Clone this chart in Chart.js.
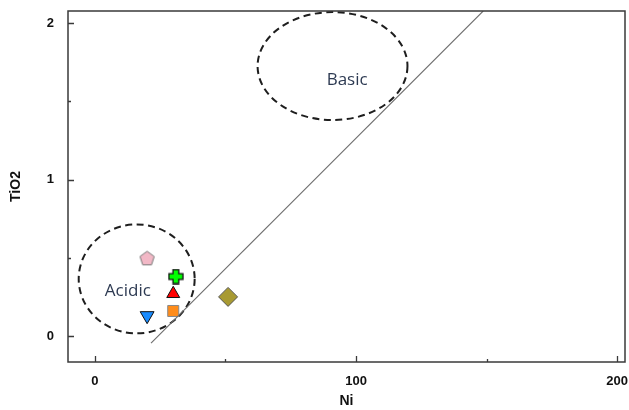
<!DOCTYPE html>
<html>
<head>
<meta charset="utf-8">
<script src="https://cdn.jsdelivr.net/npm/chart.js@4.4.1/dist/chart.umd.min.js"></script>
<style>
  html, body { margin: 0; padding: 0; background: #fff; }
  #wrap { width: 629px; height: 410px; }
</style>
</head>
<body>
<div id="wrap"><canvas id="myChart" width="629" height="410"></canvas></div>
<script>
// sample points (Ni, TiO2)
var samples = ["pentagon", "cross", "triangle", "square", "downTriangle", "diamond"];
var niValues = [20, 31, 30, 30, 20, 51];
var tio2Values = [0.5, 0.38, 0.27, 0.16, 0.13, 0.25];

// discriminant line
var lineNi = [21.5, 148.7];
var lineTiO2 = [-0.045, 2.077];

// field ellipses: centre and radii in data units
var fieldNames = ["Acidic", "Basic"];
var fieldCenterNi = [16, 91];
var fieldCenterTiO2 = [0.365, 1.725];
var fieldRadiusNi = [22.2, 28.7];
var fieldRadiusTiO2 = [0.348, 0.345];
var fieldLabelNi = [12.6, 96.6];
var fieldLabelTiO2 = [0.288, 1.636];

// ticks
var xMajor = [0, 100, 200];
var xMinor = [50, 150];
var yMajor = [0, 1, 2];
var yMinor = [0.5, 1.5];

function makePentagon(size, fill, stroke) {
    var c = document.createElement("canvas");
    c.width = size; c.height = size;
    var g = c.getContext("2d");
    var r = size / 2 - 1;
    g.beginPath();
    for (var i = 0; i < 5; i++) {
        var a = -Math.PI / 2 + i * 2 * Math.PI / 5;
        var px = size / 2 + r * Math.cos(a);
        var py = size / 2 + 1 + r * Math.sin(a);
        if (i === 0) g.moveTo(px, py); else g.lineTo(px, py);
    }
    g.closePath();
    g.fillStyle = fill; g.fill();
    g.strokeStyle = stroke; g.lineWidth = 1; g.stroke();
    return c;
}

function makePlus(size, fill, stroke) {
    var c = document.createElement("canvas");
    c.width = size; c.height = size;
    var g = c.getContext("2d");
    var s = size, a = s * 0.32, b = s * 0.68, m = 1;
    g.beginPath();
    g.moveTo(a, m); g.lineTo(b, m); g.lineTo(b, a); g.lineTo(s - m, a);
    g.lineTo(s - m, b); g.lineTo(b, b); g.lineTo(b, s - m); g.lineTo(a, s - m);
    g.lineTo(a, b); g.lineTo(m, b); g.lineTo(m, a); g.lineTo(a, a);
    g.closePath();
    g.fillStyle = fill; g.fill();
    g.strokeStyle = stroke; g.lineWidth = 1.3; g.stroke();
    return c;
}

var pointStyles = [
    makePentagon(17, "#f2b8c6", "#777"),
    makePlus(16, "#00ff00", "#111"),
    "triangle",
    "rect",
    "triangle",
    "rectRot"
];
var pointFills = ["#f2b8c6", "#00ff00", "#ff0000", "#ff8c1a", "#1a8cff", "#a89a32"];
var pointBorders = ["#777", "#111", "#111", "#888", "#111", "#555"];
var pointRadii = [8, 8, 7.5, 7.8, 8, 9.5];
var pointRotations = [0, 0, 0, 0, 180, 0];

var overlay = {
    id: "overlay",
    beforeDatasetsDraw: function (chart) {
        var ctx = chart.ctx, xs = chart.scales.x, ys = chart.scales.y;
        ctx.save();
        ctx.strokeStyle = "#1e1e1e";
        ctx.lineWidth = 2;
        ctx.setLineDash([7, 4.5]);
        for (var i = 0; i < fieldNames.length; i++) {
            var cx = xs.getPixelForValue(fieldCenterNi[i]);
            var cy = ys.getPixelForValue(fieldCenterTiO2[i]);
            var rx = xs.getPixelForValue(fieldCenterNi[i] + fieldRadiusNi[i]) - cx;
            var ry = cy - ys.getPixelForValue(fieldCenterTiO2[i] + fieldRadiusTiO2[i]);
            ctx.beginPath();
            ctx.ellipse(cx, cy, rx, ry, 0, 0, 2 * Math.PI);
            ctx.stroke();
        }
        ctx.setLineDash([]);
        ctx.fillStyle = "#2d3a52";
        ctx.font = "17px 'Open Sans', sans-serif";
        ctx.textAlign = "center";
        ctx.textBaseline = "middle";
        for (var j = 0; j < fieldNames.length; j++) {
            ctx.fillText(fieldNames[j], xs.getPixelForValue(fieldLabelNi[j]), ys.getPixelForValue(fieldLabelTiO2[j]));
        }
        ctx.restore();
    },
    afterDraw: function (chart) {
        var ctx = chart.ctx, a = chart.chartArea, xs = chart.scales.x, ys = chart.scales.y;
        ctx.save();
        ctx.strokeStyle = "#3a3a3a";
        ctx.lineWidth = 1.5;
        ctx.strokeRect(a.left, a.top, a.right - a.left, a.bottom - a.top);
        ctx.lineWidth = 1.3;
        ctx.beginPath();
        xMajor.forEach(function (v) {
            var p = Math.round(xs.getPixelForValue(v)) + 0.5;
            ctx.moveTo(p, a.bottom); ctx.lineTo(p, a.bottom - 6);
        });
        xMinor.forEach(function (v) {
            var p = Math.round(xs.getPixelForValue(v)) + 0.5;
            ctx.moveTo(p, a.bottom); ctx.lineTo(p, a.bottom - 3);
        });
        yMajor.forEach(function (v) {
            var p = Math.round(ys.getPixelForValue(v)) + 0.5;
            ctx.moveTo(a.left, p); ctx.lineTo(a.left + 6, p);
        });
        yMinor.forEach(function (v) {
            var p = Math.round(ys.getPixelForValue(v)) + 0.5;
            ctx.moveTo(a.left, p); ctx.lineTo(a.left + 3, p);
        });
        ctx.stroke();
        ctx.restore();
    }
};

var ctx = document.getElementById("myChart").getContext("2d");
window.myChart = new Chart(ctx, {
    type: "scatter",
    data: {
        datasets: [
            {
                label: "line",
                type: "line",
                data: lineNi.map(function (v, i) { return { x: v, y: lineTiO2[i] }; }),
                borderColor: "#6e6e6e",
                borderWidth: 1.1,
                pointRadius: 0,
                fill: false
            },
            {
                label: "samples",
                data: niValues.map(function (v, i) { return { x: v, y: tio2Values[i] }; }),
                pointStyle: pointStyles,
                backgroundColor: pointFills,
                borderColor: pointBorders,
                borderWidth: 1,
                pointRadius: pointRadii,
                rotation: pointRotations
            }
        ]
    },
    plugins: [overlay],
    options: {
        responsive: false,
        animation: false,
        events: [],
        layout: { autoPadding: false, padding: { top: 11, right: 4, left: 0, bottom: 0 } },
        plugins: { legend: { display: false }, tooltip: { enabled: false } },
        scales: {
            x: {
                type: "linear",
                min: -10.3,
                max: 203,
                afterBuildTicks: function (scale) {
                    scale.ticks = xMajor.map(function (v) { return { value: v }; });
                },
                afterFit: function (scale) {
                    scale.height = 48;
                    scale.paddingLeft = 0;
                    scale.paddingRight = 0;
                },
                grid: { display: false, drawTicks: false },
                border: { display: false },
                ticks: {
                    padding: 12,
                    color: "#111",
                    font: { family: "'Liberation Sans', Arial, sans-serif", size: 13, weight: "bold" }
                },
                title: {
                    display: true,
                    text: "Ni",
                    color: "#111",
                    padding: { top: 0, bottom: 0 },
                    font: { family: "'Liberation Sans', Arial, sans-serif", size: 14, weight: "bold" }
                }
            },
            y: {
                type: "linear",
                min: -0.166,
                max: 2.077,
                afterBuildTicks: function (scale) {
                    scale.ticks = yMajor.map(function (v) { return { value: v }; });
                },
                afterFit: function (scale) {
                    scale.width = 68;
                    scale.paddingTop = 0;
                    scale.paddingBottom = 0;
                },
                grid: { display: false, drawTicks: false },
                border: { display: false },
                ticks: {
                    padding: 14,
                    color: "#111",
                    font: { family: "'Liberation Sans', Arial, sans-serif", size: 13, weight: "bold" }
                },
                title: {
                    display: true,
                    text: "TiO2",
                    color: "#111",
                    padding: { top: 8, bottom: 0 },
                    font: { family: "'Liberation Sans', Arial, sans-serif", size: 14, weight: "bold" }
                }
            }
        }
    }
});
</script>
</body>
</html>
